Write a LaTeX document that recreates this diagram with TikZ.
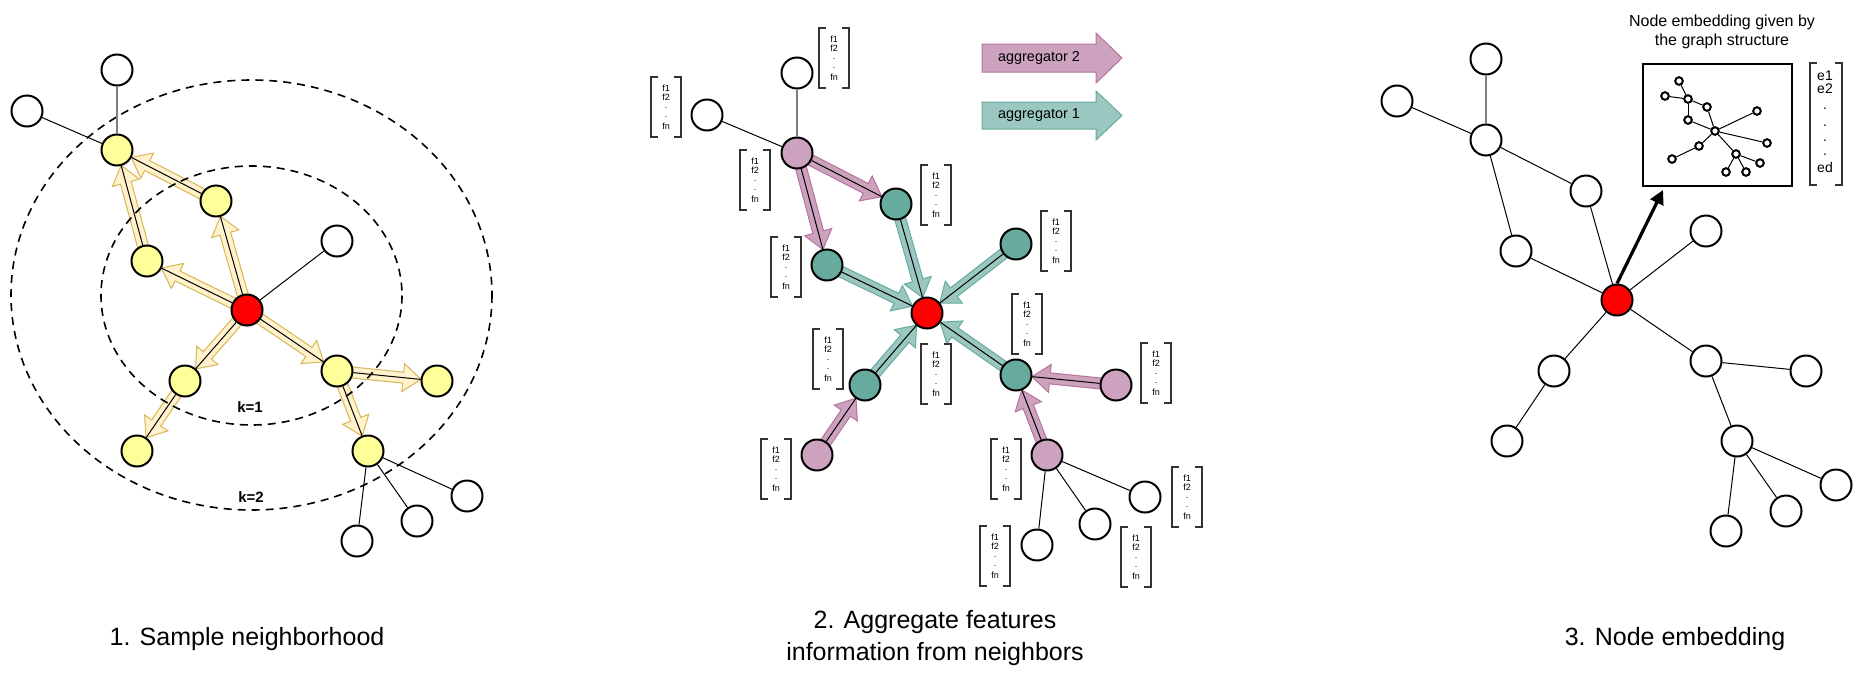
\documentclass[tikz,border=0pt]{standalone}
\usepackage{fontspec}
\setmainfont{Liberation Sans}
\usetikzlibrary{calc,arrows.meta,backgrounds}

\definecolor{ylwnode}{HTML}{FFFF99}
\definecolor{ylwfill}{HTML}{FFF2CC}
\definecolor{ylwline}{HTML}{D6B656}
\definecolor{tealnode}{HTML}{67AB9F}
\definecolor{tealfill}{HTML}{9AC7BF}
\definecolor{purpnode}{HTML}{CDA2BE}
\definecolor{purpline}{HTML}{B5739D}

% broad arrow drawn under an edge: #1 colours, #2 from, #3 to
\newcommand{\fatarrow}[3]{%
  \coordinate (fa-t) at ($(#3)!8pt!(#2)$);
  \coordinate (fa-b) at ($(fa-t)!9pt!(#2)$);
  \filldraw[#1,line width=0.5pt,line join=miter]
    ($(#2)!2.75pt!90:(fa-t)$) -- ($(fa-b)!2.75pt!-90:(#2)$)
    -- ($(fa-b)!7pt!-90:(#2)$) -- (fa-t)
    -- ($(fa-b)!7pt!90:(#2)$) -- ($(fa-b)!2.75pt!90:(#2)$)
    -- ($(#2)!2.75pt!-90:(fa-t)$) -- cycle;
  \draw[edge] (#2) -- (#3);
}

% feature vector: #1 name, #2 x, #3 y
\newcommand{\fvec}[3]{%
  \draw[vecbr] ({#2-8},{#3-30}) -- ({#2-15},{#3-30}) -- ({#2-15},{#3+30}) -- ({#2-8},{#3+30});
  \draw[vecbr] ({#2+8},{#3-30}) -- ({#2+15},{#3-30}) -- ({#2+15},{#3+30}) -- ({#2+8},{#3+30});
  \foreach \t/\dy [count=\i] in {f1/-19,f2/-10,./1,./10,fn/19}
    {\node[ftxt] (#1-\i) at ({#2},{#3+(\dy)}) {\t};}
}

\begin{document}
\begin{tikzpicture}[x=0.5pt,y=-0.5pt,
    vtx/.style={circle,draw,line width=1pt,minimum size=15.5pt,inner sep=0pt,fill=white},
    edge/.style={line width=0.5pt},
    greyedge/.style={line width=0.8pt,draw=black!50},
    vecbr/.style={line width=0.7pt,draw=black!80},
    ftxt/.style={inner sep=0pt,font=\fontsize{4.5}{5}\selectfont},
    title/.style={anchor=base,font=\fontsize{12.5}{15}\selectfont}]

    \useasboundingbox (0,0) rectangle (1864,675);

    \tikzstyle{yel}=[vtx,fill=ylwnode]
    \tikzstyle{tea}=[vtx,fill=tealnode]
    \tikzstyle{prp}=[vtx,fill=purpnode]
    \tikzstyle{hub}=[vtx,fill=red]
    \tikzstyle{mini}=[circle,draw,line width=1pt,minimum size=3.8pt,inner sep=0pt,fill=white]

    % 1. sample neighborhood
    \draw[line width=0.8pt,dash pattern=on 4pt off 3pt] (251.5,295.5) ellipse [x radius=150.5,y radius=129.5];
    \draw[line width=0.8pt,dash pattern=on 4pt off 3pt] (251.5,295) ellipse [x radius=240.5,y radius=215];
    \node[font=\bfseries\fontsize{7.5}{9}\selectfont] (k1) at (250,407) {k=1};
    \node[font=\bfseries\fontsize{7.5}{9}\selectfont] (k2) at (251,497) {k=2};

    \node[vtx] (a-top) at (117,70) {};
    \node[vtx] (a-left) at (27,111) {};
    \node[yel] (a-y1) at (117,150) {};
    \node[yel] (a-y2) at (216,201) {};
    \node[yel] (a-y3) at (147,261) {};
    \node[vtx] (a-w1) at (337,241) {};
    \node[hub] (a-c) at (247,310) {};
    \node[yel] (a-y4) at (185,381) {};
    \node[yel] (a-y5) at (137,451) {};
    \node[yel] (a-y6) at (337,371) {};
    \node[yel] (a-y7) at (437,381) {};
    \node[yel] (a-y8) at (368,451) {};
    \node[vtx] (a-w2) at (467,496) {};
    \node[vtx] (a-w3) at (417,521) {};
    \node[vtx] (a-w4) at (357,541) {};

    \draw[greyedge] (a-top) -- (a-y1);
    \draw[edge] (a-left) -- (a-y1);
    \draw[edge] (a-c) -- (a-w1);
    \foreach \n in {a-w2,a-w3,a-w4}
      \draw[edge] (a-y8) -- (\n);

    \begin{pgfonlayer}{background}
      \foreach \s/\e in {a-c/a-y2,a-c/a-y3,a-c/a-y4,a-c/a-y6,a-y2/a-y1,a-y3/a-y1,a-y6/a-y7,a-y6/a-y8,a-y4/a-y5}
        {\fatarrow{fill=ylwfill,draw=ylwline}{\s}{\e}}
    \end{pgfonlayer}

    % 2. aggregate features
    \node[vtx] (b-top) at (797,73) {};
    \node[vtx] (b-left) at (707,115) {};
    \node[prp] (b-p1) at (797,153) {};
    \node[tea] (b-t1) at (896,204) {};
    \node[tea] (b-t2) at (827,265) {};
    \node[tea] (b-t3) at (1016,244) {};
    \node[hub] (b-c) at (927,313) {};
    \node[tea] (b-t4) at (865,385) {};
    \node[tea] (b-t5) at (1016,375) {};
    \node[prp] (b-p2) at (1116,385) {};
    \node[prp] (b-p3) at (817,455) {};
    \node[prp] (b-p4) at (1047,455) {};
    \node[vtx] (b-w1) at (1145,497) {};
    \node[vtx] (b-w2) at (1095,524) {};
    \node[vtx] (b-w3) at (1037,545) {};

    \draw[greyedge] (b-top) -- (b-p1);
    \draw[edge] (b-left) -- (b-p1);
    \foreach \n in {b-w1,b-w2,b-w3}
      \draw[edge] (b-p4) -- (\n);

    \begin{pgfonlayer}{background}
      \foreach \s/\e in {b-p1/b-t1,b-p1/b-t2,b-p3/b-t4,b-p2/b-t5,b-p4/b-t5}
        {\fatarrow{fill=purpnode,draw=purpline}{\s}{\e}}
      \foreach \s in {b-t1,b-t2,b-t3,b-t4,b-t5}
        {\fatarrow{fill=tealfill,draw=tealnode}{\s}{b-c}}
    \end{pgfonlayer}

    \foreach \nm/\xx/\yy in {top/834/58,left/666/107,p1/755/180,t1/936/195,t2/786/267,
        t3/1056/241,c/1027/324,t4/828/359,cb/936/374,p2/1156/373,p3/776/469,
        p4/1006/469,w3/995/556,w2/1136/557,w1/1187/497}
      {\fvec{v-\nm}{\xx}{\yy}}

    % legend
    \filldraw[fill=purpnode,draw=purpline,line width=0.5pt] (982,44) -- (1096,44) -- (1096,33)
      -- (1122,58) -- (1096,83) -- (1096,72) -- (982,72) -- cycle;
    \filldraw[fill=tealfill,draw=tealnode,line width=0.5pt] (982,102) -- (1096,102) -- (1096,91)
      -- (1122,115.5) -- (1096,140) -- (1096,129) -- (982,129) -- cycle;
    \node[font=\fontsize{7.2}{9}\selectfont] (agg2) at (1039,58) {aggregator 2};
    \node[font=\fontsize{7.2}{9}\selectfont] (agg1) at (1039,115.5) {aggregator 1};

    % 3. node embedding
    \node[vtx] (c-top) at (1486,59) {};
    \node[vtx] (c-left) at (1397,101) {};
    \node[vtx] (c-n1) at (1486,140) {};
    \node[vtx] (c-n2) at (1586,191) {};
    \node[vtx] (c-n3) at (1516,251) {};
    \node[vtx] (c-n4) at (1706,231) {};
    \node[hub] (c-c) at (1617,300) {};
    \node[vtx] (c-n5) at (1554,371) {};
    \node[vtx] (c-n6) at (1507,441) {};
    \node[vtx] (c-n7) at (1706,361) {};
    \node[vtx] (c-n8) at (1806,371) {};
    \node[vtx] (c-n9) at (1737,441) {};
    \node[vtx] (c-n10) at (1836,485) {};
    \node[vtx] (c-n11) at (1786,511) {};
    \node[vtx] (c-n12) at (1726,531) {};

    \draw[greyedge] (c-top) -- (c-n1);
    \foreach \s/\e in {c-left/c-n1,c-n1/c-n2,c-n1/c-n3,c-n2/c-c,c-n3/c-c,c-c/c-n4,c-c/c-n5,
        c-n5/c-n6,c-c/c-n7,c-n7/c-n8,c-n7/c-n9,c-n9/c-n10,c-n9/c-n11,c-n9/c-n12}
      \draw[edge] (\s) -- (\e);

    \draw[line width=1.2pt] (1643,64) rectangle (1792,186);
    \foreach \nm/\xx/\yy in {1/1679/81,2/1665/96,3/1688/99,4/1707/107,5/1688/120,6/1715/131,
        7/1757/111,8/1767/143,9/1699/146,10/1672/159,11/1736/154,12/1760/163,13/1746/172,14/1726/172}
      \node[mini] (m\nm) at (\xx,\yy) {};
    \foreach \s/\e in {1/3,2/3,3/5,3/4,4/6,5/6,6/7,6/8,6/9,9/10,6/11,11/12,11/13,11/14}
      \draw[edge] (m\s) -- (m\e);

    \coordinate (c-tip) at (1663,190);
    \draw[line width=1.6pt,-{Triangle[length=7pt,width=7pt]}] (c-c.north) -- (c-tip);

    \node[anchor=base,font=\fontsize{8}{9.5}\selectfont] (cap1) at (1722,26) {Node embedding given by};
    \node[anchor=base,font=\fontsize{8}{9.5}\selectfont] (cap2) at (1722,45) {the graph structure};

    \draw[vecbr] (1817,63) -- (1810,63) -- (1810,185) -- (1817,185);
    \draw[vecbr] (1835,63) -- (1842,63) -- (1842,185) -- (1835,185);
    \foreach \t/\yy [count=\i] in {e1/80,e2/93,./109,./126,./141,./155,ed/172}
      \node[anchor=base,inner sep=0pt,font=\fontsize{7}{8}\selectfont] (e-\i) at (1825,\yy) {\t};

    % the titles
    \node[title] (t1) at (247,645) {1. Sample neighborhood};
    \node[title] (t2a) at (935,628) {2. Aggregate features};
    \node[title] (t2b) at (935,660) {information from neighbors};
    \node[title] (t3) at (1675,645) {3. Node embedding};

\end{tikzpicture}
\end{document}
